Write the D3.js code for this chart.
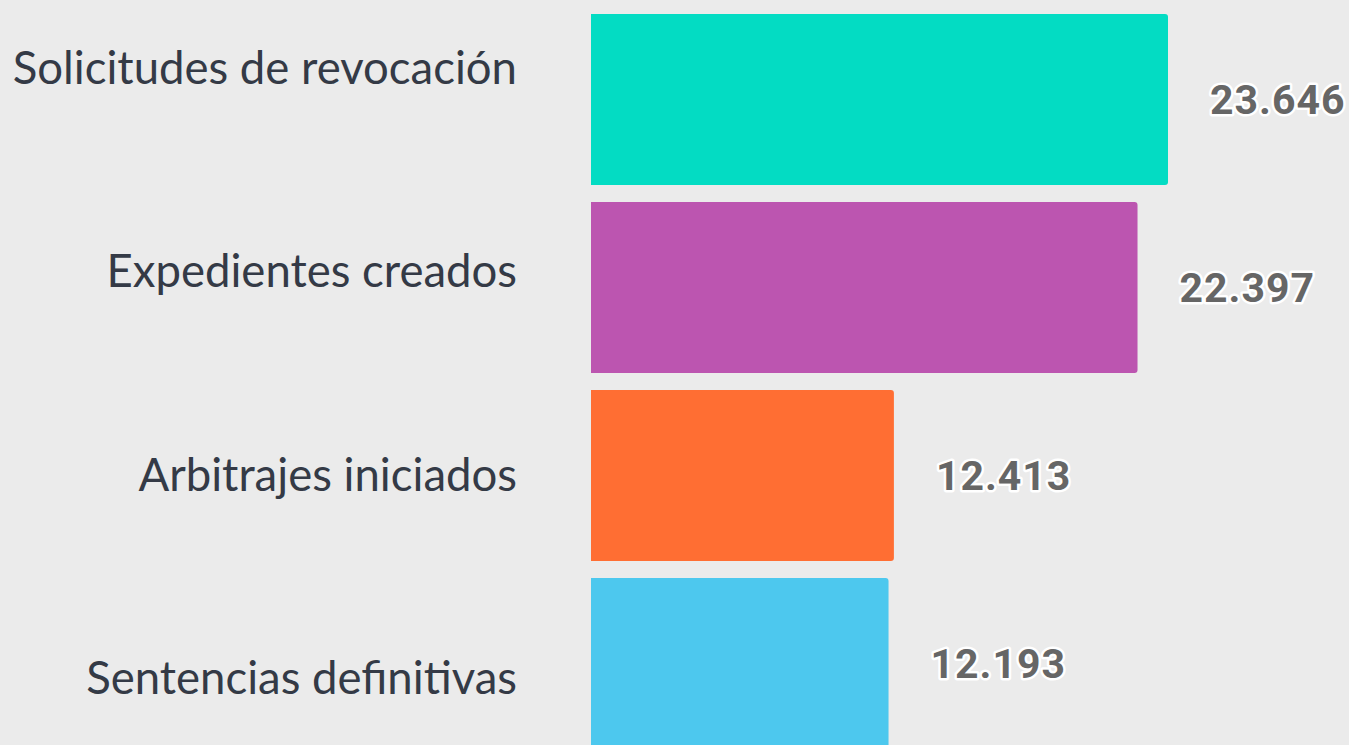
<!DOCTYPE html>
<html>
<head>
<meta charset="utf-8">
<script src="https://cdn.jsdelivr.net/npm/d3@7"></script>
<style>
    html, body { margin: 0; padding: 0; background: #ebebeb; overflow: hidden; }
    svg { display: block; }
</style>
</head>
<body>
<div id="chart"></div>
<script>
const categories = ['Solicitudes de revocación', 'Expedientes creados', 'Arbitrajes iniciados', 'Sentencias definitivas'];
const values = [23646, 22397, 12413, 12193];
const colors = ['#03dcc3', '#bc55b0', '#ff6e33', '#4dc8ee'];
const valueLabels = ['23.646', '22.397', '12.413', '12.193'];

const width = 1349, height = 745;

const svg = d3.select('#chart').append('svg')
    .attr('width', width)
    .attr('height', height);

svg.append('rect')
    .attr('width', width)
    .attr('height', height)
    .attr('fill', '#ebebeb');

const x = d3.scaleLinear().domain([0, 23646]).range([591, 1168]);
const y = d3.scaleBand().domain(categories).range([5.5, 757.5])
    .paddingInner(17 / 188).paddingOuter(8.5 / 188);
// category labels sit on their own spacing
const yLabel = d3.scalePoint().domain(categories).range([68, 678]);

const data = categories.map((c, i) => ({cat: c, value: values[i], color: colors[i], label: valueLabels[i]}));

svg.append('g')
    .selectAll('path')
    .data(data)
    .enter().append('path')
    .attr('fill', d => d.color)
    .attr('d', d => {
        const x0 = x(0), x1 = x(d.value), y0 = y(d.cat), y1 = y0 + y.bandwidth(), r = 3;
        return `M${x0},${y0}H${x1 - r}Q${x1},${y0} ${x1},${y0 + r}V${y1 - r}Q${x1},${y1} ${x1 - r},${y1}H${x0}Z`;
    });

svg.append('g')
    .selectAll('text')
    .data(data)
    .enter().append('text')
    .attr('x', 517)
    .attr('y', d => yLabel(d.cat))
    .attr('dy', '0.35em')
    .attr('text-anchor', 'end')
    .attr('fill', '#343a46')
    .style('font-family', 'Lato, "Noto Sans", sans-serif')
    .style('font-size', '45.5px')
    .text(d => d.cat);

svg.append('g')
    .selectAll('text')
    .data(data)
    .enter().append('text')
    .attr('x', d => x(d.value) + 42)
    .attr('y', d => y(d.cat) + y.bandwidth() / 2)
    .attr('dy', '0.36em')
    .attr('fill', '#666666')
    .attr('stroke', '#ffffff')
    .attr('stroke-width', 5)
    .attr('paint-order', 'stroke')
    .attr('stroke-linejoin', 'round')
    .style('font-family', 'Roboto, sans-serif')
    .style('font-weight', 'bold')
    .style('font-size', '41px')
    .style('letter-spacing', '1px')
    .text(d => d.label);
</script>
</body>
</html>
